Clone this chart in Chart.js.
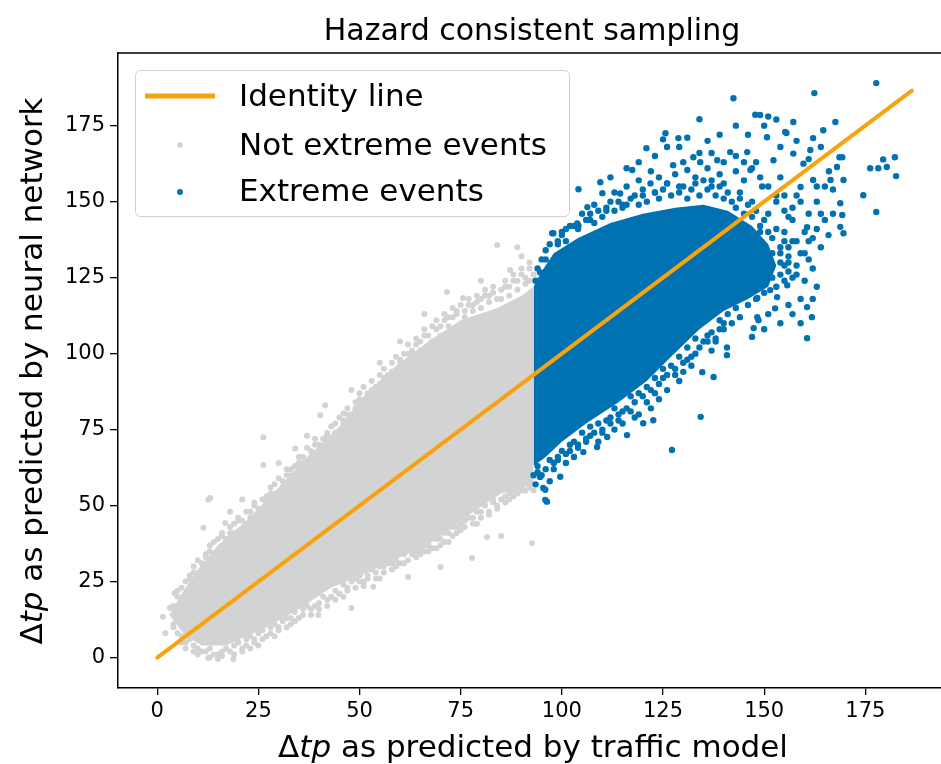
<!DOCTYPE html>
<html>
<head>
<meta charset="utf-8">
<script src="https://cdn.jsdelivr.net/npm/chart.js@4.4.1/dist/chart.umd.min.js"></script>
<style>
  html, body { margin: 0; padding: 0; background: #fff; }
  canvas { display: block; }
</style>
</head>
<body>
<canvas id="myChart" width="941" height="764"></canvas>
<script>
// tick labels
const xTicks = [0, 25, 50, 75, 100, 125, 150, 175];
const yTicks = [0, 25, 50, 75, 100, 125, 150, 175];

// identity line end points
const identityLine = [[0, 0], [186.5, 186.5]];

// dense part of the grey cloud (outline)
const notExtremeUpper = [[3,14],[6,21],[10,29],[15,37],[22,45],[30,56],[37,66],[45,76],[51,86],[59,96],[67,104],[75,111],[84,115],[90,119],[93,122]];
const notExtremeLower = [[3,14],[7,7],[11,4],[17,4],[27,10],[35,16],[43,23],[52,28],[60,33],[68,38],[76,46],[85,54],[93,57]];

// dense part of the blue cloud
const extremeUpper = [[93,122],[95,127],[98,133],[104,138],[112,143],[120,146],[128,148],[135,149],[141,147],[147,142],[151,136],[153,129]];
const extremeLower = [[93,63],[96,66],[100,71],[106,77],[114,84],[121,91],[127,99],[134,108],[140,114],[146,118],[151,122],[153,129]];

// single points of the grey cloud: edges and outliers
const notExtremePoints = [
  [5,22],[7,25],[8,27],[9,30],[11,31],[12,33],[13,35],[14,38],[16,40],[18,41],[19,44],[20,46],[21,45],[23,48],[24,50],[25,47],
  [26,52],[27,53],[28,56],[29,54],[31,58],[32,60],[33,62],[34,59],[35,64],[36,66],[38,68],[39,70],[40,67],[41,72],[42,74],[43,71],
  [44,77],[46,78],[47,80],[48,76],[49,82],[50,85],[52,84],[53,88],[54,86],[55,90],[56,92],[57,89],[58,94],[60,98],[61,96],[62,100],
  [63,99],[64,103],[65,101],[66,106],[68,104],[69,108],[70,106],[71,111],[72,109],[73,112],[74,114],[76,112],[77,116],[78,114],
  [79,117],[80,115],[81,119],[82,117],[83,120],[85,118],[86,122],[87,119],[88,124],[89,121],[90,126],[91,123],[92,128],[92,124],
  [4,17],[5,20],[6,23],[8,26],[9,28],[10,32],[12,34],[13,37],[15,39],[16,41],[17,39],[18,43],[19,41],[20,45],[22,48],[23,46],
  [24,51],[25,49],[27,51],[28,54],[29,57],[30,59],[31,56],[32,62],[33,60],[34,63],[35,66],[36,64],[37,69],[38,66],[39,72],[40,70],
  [42,73],[43,76],[44,74],[45,79],[46,77],[47,82],[48,80],[49,84],[50,87],[51,89],[52,87],[53,91],[54,89],[55,93],[56,95],[57,93],
  [58,97],[59,99],[60,97],[61,100],[62,103],[63,101],[64,105],[65,104],[66,108],[67,106],[68,109],[69,111],[70,109],[71,113],
  [72,112],[73,115],[74,113],[75,116],[76,114],[77,118],[78,116],[79,119],[80,118],[81,121],[82,119],[83,122],[84,118],[85,121],
  [86,124],[87,122],[88,126],[89,124],[90,128],[91,125],[92,130],[93,126],
  [12.6,51.9],[11.4,42.7],[13.1,52.5],[16.8,44.3],[26.2,72.5],[26.2,63.4],[34.1,68.8],[40.3,79.7],[41.5,83],[46,80.3],
  [71.6,120.3],[75.6,118.3],[84,135.7],[89,135],[87.2,127.5],[90,132],[80,124],[66,113],[60,104],[55,97],[48,88],[37,73],[30,64],[21,52],[18,48],
  [2,8],[4,10],[5,13],[6,7],[7,5],[8,6],[9,4],[10,3],[11,2],[12.6,-0.1],[15,-0.5],[18.8,-0.5],[13,3],[14,1],[16,2],[17,3],
  [19,4],[20,5],[21,3],[22,6],[23,7],[24,5],[25,8],[26,9],[27,7],[28,10],[29,11],[30,9],[31,12],[32,13],[33,11],[34,15],
  [36,14],[37,17],[38,16],[39.8,14],[40,18],[41,20],[42,19],[44,22],[45,21],[46,24],[47,23],[48,16.3],[49,26],[50,25],[51,23.5],
  [53.4,23.3],[52,27],[54,28],[55,26],[56,30],[58,29],[59,32],[61,31],[62,26.5],[63,34],[64,33],[65,36],[66,35],[67,37],[69,36],
  [70,29.8],[70,39],[71,38],[72,41],[73,40],[74,43],[75,42],[76,45],[77.8,32.8],[78,46],[79,44],[80,48],[81.5,39.7],[82,47],
  [83,51],[84,50],[85,40],[86,53],[87,52],[88,55],[89,54],[90,56],[91,55],[92,57],[92.6,37.6],[1.4,13.4],[3.1,16.3],[4.3,21.2],
  [4,11],[5,8],[6,5],[7,3],[9,2],[10,1],[12,2],[13,0],[15,1],[16,0.5],[18,2],[19,1],[21,2],[22,4],[23,3],[24,6],[25,4],[26,6],
  [28,8],[29,7],[30,10],[32,10],[33,13],[34,12],[35,13],[36,16],[38,14],[39,17],[40,16],[42,17],[43,20],[44,19],[45,21],[46,20],
  [47,22],[48,25],[49,23],[50,27],[51,25],[52,26],[53,29],[54,26],[55,30],[56,28],[57,31],[58,31],[59,30],[60,31],[61,34],[62,32],
  [63,35],[64,35],[65,34],[66,37],[67,35],[68,36],[69,39],[70,37],[71,41],[72,38],[73,43],[74,41],[75,44],[76,43],[77,46],[78,44],
  [79,48],[80,46],[81,50],[82,48],[83,52],[84,49],[85,52],[86,51],[87,54],[88,53],[89,56],[90,55],[91,58],[92,56],[93,55]
];

// single points of the blue cloud: edges and the sparse upper right part
const extremePoints = [
  [93.5,124],[94.6,126.8],[95.1,126.5],[96,131],[97.6,130.1],[97.6,139.6],[97.9,139.6],[99,136],[100,140],[101,137],[102,142],
  [103.8,142.8],[104.1,142.1],[104.1,154.1],[105,146],[106.3,148.2],[107,144],[108,149],[109.5,156.4],[110,152.8],[111,147],
  [112,150],[113,153],[114.4,152.7],[115,149],[116,155],[117.4,160.4],[118,152],[119,157],[120,154],[120.9,167.6],[121.9,156],
  [122,160],[123,153],[124,158],[125,170.5],[125.6,172.5],[126,156],[127.5,162],[128,159],[128.8,170.9],[129,155],[130,163],
  [131,160.4],[132.5,164.6],[133,158],[134,177.1],[134.2,163],[135,157],[136,161],[137,155],[138.4,163.6],[139,159],[140,156],
  [141.6,166.3],[142.4,184],[143,160],[144,153],[145,157],[145.8,166.3],[146.6,160.4],[147,150],[147.8,178.6],[148,163],
  [149,178.5],[149.5,155],[150.7,171.2],[151,178],[151,146],[152.3,163.6],[153,177],[153,150],[154,158],[155.2,172.9],
  [155.5,172.6],[156,145],[157.2,176.2],[157.2,165.8],[158,152],[159,154.8],[159.7,162.5],[160,140],[160.6,141.6],[161.4,167],
  [162.1,157.1],[162.1,170.9],[162.4,185.7],[163,150],[164,146],[164.6,173.5],[165,155],[165.9,139],[166.4,157.1],
  [167.6,176.2],[168,161.4],[168.6,164.6],[168.8,149.5],[168.8,141.7],[169.3,145.6],[169.6,139.6],[169.6,157.1],[169.3,164.6],
  [174.5,152.1],[176.2,161],[177.7,146.6],[177.7,189],[178.2,161],[179.4,163.9],[180.3,161.4],[182.3,164.6],[182.6,158.4],
  [162,128],[160.6,115.3],[161.8,112],[160.6,105.1],[159,133],[158,126],[157,137],[156,130],[155.7,122.5],[155,140],[154,133],
  [153.2,118.6],[152.7,114.9],[151.5,120.9],[151,128],[150,135],[149,140],[148.6,111],[148.3,118.3],[148.3,112],[147.4,108.4],
  [147,105.5],[146,126],[145,131],[144,122],[143,137],[142,128],[141,120],[140.8,99.5],[140.8,102],[140,110],[139,108],
  [138,105],[137.5,92.3],[137,101],[136,104],[134.7,93.9],[134.3,79.2],[133,100],[132,96],[131,98],[130,94],[129,91],[128,93],
  [127.2,68.3],[126,88],[125,92],[124,85],[123,87],[122.6,78.1],[122,82],[121,84],[120.1,77.1],[119,80],[118,79],[117,81],
  [116.1,73.2],[115,77],[114,78],[113,75],[112,79],[111.2,72.6],[110,74],[109,71],[108.7,69.3],[107,73],[106,71],[105.3,67.6],
  [104,70],[103,66],[102,68],[101,64],[99.6,59.5],[99,65],[98,62],[97,58],[96.3,51.3],[95.9,55.2],[95.9,51.9],[95.4,55.8],
  [94.6,59.4],[94,61],[93.5,57],
  [94,128],[95,131],[96,134],[97,136],[99,137],[100,139],[101,141],[103,142],[104,141],[106,144],[107,146],[108,143],[109,147],
  [110,145],[111,148],[113,147],[114,150],[115,148],[116,149],[117,151],[119,149],[120,152],[121,150],[123,153],[124,151],
  [125,154],[126,156],[127,152],[129,153],[130,155],[131,151],[132,154],[133,156],[134,152],[136,154],[137,157],[138,152],
  [139,155],[140,151],[141,153],[142,150],[143,148],[144,151],[145,146],[146,149],[147,145],[148,147],[149,142],[150,144],
  [151,140],[152,138],[153,141],[154,135],[155,137],[156,132],[155,129],[156,127],[157,125],[155,124],[154,126],[153,122],
  [152,125],[150,120],[149,123],[148,118],[147,121],[146,116],[145,119],
  [144,112],[143,115],[142,110],[141,113],[140,108],[139,111],[138,104],[137,107],[136,106],[135,104],[134,102],[133,105],
  [132,99],[131,102],[130,97],[129,99],[128,95],[127,96],[126,93],[125,95],[124,90],[123,92],[122,88],[121,89],[120,86],
  [119,87],[118,84],[117,86],[116,82],[115,81],[114,80],[113,82],[112,77],[111,78],[110,75],[109,77],[108,74],[107,76],
  [106,72],[105,74],[104,69],[103,71],[102,70],[101,67],[100,68],[99,66],[98,64],[97,65],[96,62],[95,60],[94,63],[93,60],
  [112,158],[116,161],[119,163],[123,165],[126,168],[129,168],[131,171],[136,170],[139,172],[143,175],[146,172],[150,175],
  [154,168],[158,170],[161,164],[164,168],[166,160],[163,155],[167,154],[165,144],[167,146],[161,146],[159,150],[162,138],
  [164,135],[161,131],[160,124],[163,122],[162,118],[159,118],[159,110],[157,113],[156,116],[154,110],[151,113],[150,108],
  [152,133],[154,130],[156,135],[158,137],[157,144],[155,147],[153,152],[151,155],[149,158],[147,161],[145,163],[143,165],
  [140,163],[137,166],[134,166],[158,129],[160,133],[161,137],[163,141],[157,148],[155,152]
];

const GREY = "#d3d3d3";
const BLUE = "#0072b2";
const ORANGE = "#f7a30f";
const FONT = "'DejaVu Sans', 'Liberation Sans', sans-serif";

function toXY(pts) {
  return pts.map(function(p) { return { x: p[0], y: p[1] }; });
}

// draws runs of text (some italic) one after another, centred on cx
function drawRuns(ctx, runs, cx, y, size) {
  var total = 0;
  runs.forEach(function(r) {
    ctx.font = (r.italic ? "italic " : "") + size + "px " + FONT;
    r.w = ctx.measureText(r.text).width;
    total += r.w;
  });
  var x = cx - total / 2;
  ctx.textAlign = "left";
  runs.forEach(function(r) {
    ctx.font = (r.italic ? "italic " : "") + size + "px " + FONT;
    ctx.fillText(r.text, x, y);
    x += r.w;
  });
}

var decorations = {
  id: "decorations",
  afterDraw: function(chart) {
    var ctx = chart.ctx;
    var area = chart.chartArea;
    ctx.save();

    // top spine
    ctx.strokeStyle = "#000";
    ctx.lineWidth = 1.5;
    ctx.beginPath();
    ctx.moveTo(area.left, area.top);
    ctx.lineTo(area.right, area.top);
    ctx.stroke();

    ctx.fillStyle = "#000";
    ctx.textBaseline = "alphabetic";

    // title
    ctx.font = "30px " + FONT;
    ctx.textAlign = "center";
    ctx.fillText("Hazard consistent sampling", 532, 40);

    // axis labels
    drawRuns(ctx, [{ text: "\u0394" }, { text: "tp", italic: true }, { text: " as predicted by traffic model" }], 533, 757, 31);
    ctx.save();
    ctx.translate(42, 371);
    ctx.rotate(-Math.PI / 2);
    drawRuns(ctx, [{ text: "\u0394" }, { text: "tp", italic: true }, { text: " as predicted by neural network" }], 0, 0, 31);
    ctx.restore();

    // legend
    var ds = chart.data.datasets;
    ctx.beginPath();
    ctx.roundRect(135.5, 70.5, 434, 146, 5);
    ctx.fillStyle = "rgba(255,255,255,0.85)";
    ctx.fill();
    ctx.strokeStyle = "#d0d0d0";
    ctx.lineWidth = 1;
    ctx.stroke();

    ctx.strokeStyle = ds[0].borderColor;
    ctx.lineWidth = 5;
    ctx.beginPath();
    ctx.moveTo(145, 96);
    ctx.lineTo(215, 96);
    ctx.stroke();

    ctx.fillStyle = ds[4].backgroundColor;
    ctx.beginPath();
    ctx.arc(180, 145, 2.8, 0, Math.PI * 2);
    ctx.fill();

    ctx.fillStyle = ds[1].backgroundColor;
    ctx.beginPath();
    ctx.arc(180, 192, 3, 0, Math.PI * 2);
    ctx.fill();

    ctx.fillStyle = "#000";
    ctx.textAlign = "left";
    ctx.font = "31px " + FONT;
    ctx.fillText(ds[0].label, 239, 106);
    ctx.fillText(ds[4].label, 239, 155);
    ctx.fillText(ds[1].label, 239, 201);

    ctx.restore();
  }
};

document.addEventListener("DOMContentLoaded", function()
{
  var canvas = document.getElementById("myChart");

  new Chart(canvas, {
    type: "scatter",
    data: {
      datasets: [
        {
          label: "Identity line",
          data: toXY(identityLine),
          showLine: true,
          borderColor: ORANGE,
          borderWidth: 4,
          pointRadius: 0,
          borderCapStyle: "round",
          order: 0
        },
        {
          label: "Extreme events",
          data: toXY(extremePoints),
          backgroundColor: BLUE,
          pointRadius: 3.2,
          pointBorderWidth: 0,
          order: 1
        },
        {
          label: "extreme dense",
          data: toXY(extremeUpper),
          showLine: true,
          borderWidth: 0,
          borderColor: "rgba(0,0,0,0)",
          backgroundColor: BLUE,
          pointRadius: 0,
          fill: "+1",
          order: 2
        },
        {
          label: "extreme dense low",
          data: toXY(extremeLower),
          showLine: true,
          borderWidth: 0,
          borderColor: "rgba(0,0,0,0)",
          pointRadius: 0,
          order: 3
        },
        {
          label: "Not extreme events",
          data: toXY(notExtremePoints),
          backgroundColor: GREY,
          pointRadius: 3,
          pointBorderWidth: 0,
          order: 4
        },
        {
          label: "not extreme dense",
          data: toXY(notExtremeUpper),
          showLine: true,
          borderWidth: 0,
          borderColor: "rgba(0,0,0,0)",
          backgroundColor: GREY,
          pointRadius: 0,
          fill: "+1",
          order: 5
        },
        {
          label: "not extreme dense low",
          data: toXY(notExtremeLower),
          showLine: true,
          borderWidth: 0,
          borderColor: "rgba(0,0,0,0)",
          pointRadius: 0,
          order: 6
        }
      ]
    },
    options: {
      responsive: false,
      animation: false,
      events: [],
      layout: { autoPadding: false, padding: { top: 53, left: 0, right: 0, bottom: 0 } },
      plugins: {
        legend: { display: false },
        tooltip: { enabled: false },
        title: { display: false }
      },
      scales: {
        x: {
          type: "linear",
          min: -9.7,
          max: 193.7,
          afterBuildTicks: function(axis) { axis.ticks = xTicks.map(function(v) { return { value: v }; }); },
          afterFit: function(scale) {
            scale.height = 76;
            scale.paddingLeft = 0;
            scale.paddingRight = 0;
          },
          ticks: { color: "#000", font: { family: FONT, size: 21 }, padding: 4, maxRotation: 0 },
          grid: { drawOnChartArea: false, drawTicks: true, tickLength: 7, color: "#000", lineWidth: 1.3 },
          border: { display: true, color: "#000", width: 1.5 }
        },
        y: {
          type: "linear",
          min: -10,
          max: 198.9,
          afterBuildTicks: function(axis) { axis.ticks = yTicks.map(function(v) { return { value: v }; }); },
          afterFit: function(scale) {
            scale.width = 118;
            scale.paddingTop = 0;
            scale.paddingBottom = 0;
          },
          ticks: { color: "#000", font: { family: FONT, size: 21 }, padding: 5 },
          grid: { drawOnChartArea: false, drawTicks: true, tickLength: 8, color: "#000", lineWidth: 1.3 },
          border: { display: true, color: "#000", width: 1.5 }
        }
      }
    },
    plugins: [decorations]
  });
});
</script>
</body>
</html>
